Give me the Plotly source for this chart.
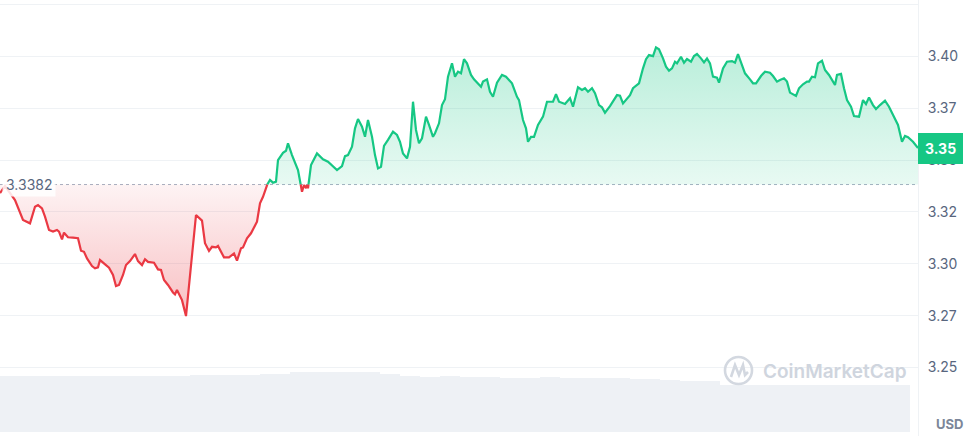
import plotly.graph_objects as go

# ---- data ----
times = [
    0, 5, 15, 23, 30, 35, 38, 42, 45, 49, 53,
    57, 59, 62, 64, 68, 73, 78, 81, 84, 87,
    92, 95, 98, 100, 105, 109, 113, 116, 119, 123,
    126, 130, 135, 138, 142, 145, 148, 154, 158, 161,
    164, 168, 173, 175, 177, 182, 186, 196, 202, 205,
    209, 212, 216, 218, 224, 229, 234, 237, 241, 243,
    247, 251, 257, 260, 263, 267, 270, 273, 276, 278,
    283, 286, 288, 292, 297, 298, 302, 304, 306, 307,
    308, 311, 317, 323, 328, 337, 342, 345, 348, 352,
    355, 358, 362, 365, 368, 372, 375, 378, 381, 384,
    388, 393, 397, 400, 403, 407, 410, 413, 416, 419,
    422, 426, 429, 433, 435, 439, 442, 445, 448, 452,
    455, 458, 461, 464, 467, 471, 474, 478, 481, 483,
    487, 490, 493, 497, 502, 506, 512, 517, 519, 523,
    526, 528, 531, 534, 538, 543, 547, 553, 556, 559,
    565, 570, 573, 578, 582, 585, 588, 592, 595, 599,
    602, 605, 610, 617, 620, 623, 627, 630, 633, 639,
    643, 646, 649, 653, 656, 659, 663, 666, 669, 672,
    675, 677, 681, 684, 687, 691, 694, 697, 701, 704,
    707, 710, 713, 717, 719, 723, 727, 732, 735, 738,
    742, 745, 750, 753, 756, 761, 765, 770, 773, 777,
    780, 784, 787, 790, 796, 799, 803, 807, 809, 812,
    815, 818, 822, 825, 829, 835, 837, 841, 844, 847,
    851, 854, 859, 863, 866, 869, 873, 876, 880, 885,
    889, 893, 896, 898, 902, 905, 908, 913, 918,
]
prices = [
    3.3341, 3.3375, 3.3307, 3.3211, 3.3195, 3.3275, 3.3283, 3.3267, 3.3227, 3.3163, 3.3155,
    3.3163, 3.3155, 3.3118, 3.3150, 3.3128, 3.3126, 3.3123, 3.3063, 3.3058, 3.3026,
    3.2989, 3.2978, 3.2983, 3.3018, 3.2999, 3.2981, 3.2946, 3.2893, 3.2898, 3.2946,
    3.2994, 3.3013, 3.3047, 3.3013, 3.2994, 3.3022, 3.3009, 3.3005, 3.2973, 3.2970,
    3.2922, 3.2898, 3.2862, 3.2853, 3.2874, 3.2825, 3.2748, 3.3235, 3.3208, 3.3099,
    3.3062, 3.3082, 3.3079, 3.3086, 3.3031, 3.3031, 3.3050, 3.3015, 3.3075, 3.3079,
    3.3123, 3.3147, 3.3203, 3.3291, 3.3323, 3.3380, 3.3404, 3.3391, 3.3396, 3.3500,
    3.3535, 3.3545, 3.3581, 3.3524, 3.3468, 3.3452, 3.3347, 3.3380, 3.3364, 3.3380,
    3.3364, 3.3476, 3.3532, 3.3504, 3.3492, 3.3452, 3.3471, 3.3519, 3.3524, 3.3564,
    3.3653, 3.3698, 3.3661, 3.3612, 3.3693, 3.3612, 3.3524, 3.3460, 3.3468, 3.3568,
    3.3597, 3.3637, 3.3621, 3.3588, 3.3532, 3.3508, 3.3564, 3.3781, 3.3645, 3.3581,
    3.3605, 3.3709, 3.3669, 3.3612, 3.3629, 3.3677, 3.3765, 3.3793, 3.3902, 3.3966,
    3.3902, 3.3926, 3.3918, 3.3986, 3.3966, 3.3910, 3.3889, 3.3870, 3.3853, 3.3878,
    3.3889, 3.3829, 3.3805, 3.3873, 3.3910, 3.3902, 3.3870, 3.3805, 3.3789, 3.3693,
    3.3653, 3.3588, 3.3612, 3.3612, 3.3669, 3.3709, 3.3781, 3.3781, 3.3818, 3.3781,
    3.3770, 3.3798, 3.3757, 3.3851, 3.3838, 3.3846, 3.3829, 3.3846, 3.3822, 3.3765,
    3.3754, 3.3728, 3.3760, 3.3813, 3.3810, 3.3773, 3.3798, 3.3813, 3.3846, 3.3870,
    3.3942, 3.3986, 3.4006, 3.4001, 3.4043, 3.4034, 3.3990, 3.3950, 3.3931, 3.3942,
    3.3974, 3.3966, 3.3998, 3.3969, 3.3987, 3.3974, 3.4001, 3.4011, 3.3990, 3.3971,
    3.3990, 3.3966, 3.3902, 3.3897, 3.3873, 3.3942, 3.3974, 3.3977, 3.3969, 3.4011,
    3.3958, 3.3918, 3.3889, 3.3870, 3.3870, 3.3905, 3.3926, 3.3921, 3.3905, 3.3878,
    3.3886, 3.3894, 3.3878, 3.3825, 3.3809, 3.3846, 3.3865, 3.3878, 3.3878, 3.3902,
    3.3899, 3.3966, 3.3979, 3.3934, 3.3910, 3.3862, 3.3910, 3.3915, 3.3846, 3.3789,
    3.3757, 3.3712, 3.3709, 3.3789, 3.3770, 3.3802, 3.3765, 3.3746, 3.3765, 3.3786,
    3.3757, 3.3717, 3.3685, 3.3669, 3.3588, 3.3616, 3.3610, 3.3588, 3.3558,
]
assert len(times) == len(prices)

open_price = 3.3382
open_label = "3.3382"
last_label = "3.35"

volumes = [
    5.60, 5.60, 5.60, 5.60, 5.60, 5.60, 5.60, 5.60, 5.60, 5.60,
    5.60, 5.60, 5.60, 5.60, 5.60, 5.60, 5.60, 5.60, 5.60, 5.73,
    5.73, 5.73, 5.73, 5.73, 5.73, 5.73, 5.83, 5.83, 5.83, 6.00,
    6.00, 6.00, 6.00, 6.00, 6.00, 6.00, 6.00, 6.00, 5.83, 5.83,
    5.60, 5.60, 5.50, 5.50, 5.60, 5.60, 5.50, 5.50, 5.50, 5.50,
    5.40, 5.40, 5.40, 5.40, 5.50, 5.50, 5.40, 5.40, 5.40, 5.40,
    5.40, 5.40, 5.40, 5.33, 5.33, 5.33, 5.23, 5.23, 5.07, 5.07,
    5.07, 5.07, 4.73, 4.73, 4.73, 4.73, 4.73, 4.73, 4.73, 4.73,
    4.73, 4.73, 4.73, 4.73, 4.73, 4.73, 4.73, 4.73, 4.73, 4.73,
    4.73,
]
volume_times = [5 + 10 * i for i in range(len(volumes))]

tick_vals = [3.25, 3.275, 3.30, 3.325, 3.35, 3.375, 3.40, 3.425]
tick_text = ["3.25", "3.27", "3.30", "3.32", "3.35", "3.37", "3.40", ""]

GREEN = "#16c784"
RED = "#ea3943"
LABEL = "#58667e"
GRID = "#eff2f5"

# ---- split the series at the open-price crossings ----
xs, ys = [times[0]], [prices[0]]
for i in range(1, len(times)):
    a, b = prices[i - 1], prices[i]
    if (a - open_price) * (b - open_price) < 0:
        t = times[i - 1] + (open_price - a) / (b - a) * (times[i] - times[i - 1])
        xs.append(t)
        ys.append(open_price)
    xs.append(times[i])
    ys.append(prices[i])

up_line = [y if y >= open_price else None for y in ys]
dn_line = [y if y <= open_price else None for y in ys]
n = len(xs)
poly_x = xs + xs[::-1]
up_poly = [max(y, open_price) for y in ys] + [open_price] * n
dn_poly = [min(y, open_price) for y in ys] + [open_price] * n

fig = go.Figure()

# volume bars
fig.add_trace(go.Bar(
    x=volume_times, y=volumes, width=9.2, yaxis="y2",
    marker=dict(color="#eef1f5", line=dict(width=0)),
    hoverinfo="skip", showlegend=False,
))

fig.add_trace(go.Scatter(
    x=poly_x, y=up_poly, mode="lines", line=dict(width=0), fill="toself",
    fillgradient=dict(type="vertical", start=open_price, stop=max(prices),
                      colorscale=[[0, "rgba(22,199,132,0.10)"], [1, "rgba(22,199,132,0.30)"]]),
    hoverinfo="skip", showlegend=False,
))
fig.add_trace(go.Scatter(
    x=poly_x, y=dn_poly, mode="lines", line=dict(width=0), fill="toself",
    fillgradient=dict(type="vertical", start=min(prices), stop=open_price,
                      colorscale=[[0, "rgba(234,57,67,0.32)"], [1, "rgba(234,57,67,0.06)"]]),
    hoverinfo="skip", showlegend=False,
))
fig.add_trace(go.Scatter(
    x=xs, y=up_line, mode="lines", line=dict(color=GREEN, width=2.2),
    connectgaps=False, hoverinfo="skip", showlegend=False,
))
fig.add_trace(go.Scatter(
    x=xs, y=dn_line, mode="lines", line=dict(color=RED, width=2.2),
    connectgaps=False, hoverinfo="skip", showlegend=False,
))

# dotted open-price line
fig.add_shape(type="line", xref="paper", yref="y", x0=0, x1=1,
              y0=open_price, y1=open_price,
              line=dict(color="#a7b1c2", width=1, dash="dot"), layer="below")

W_PLOT = 918.0
H_PLOT = 436.0

def px(x):
    return x / W_PLOT

def py(y):
    return 1 - y / H_PLOT

# watermark logo
fig.add_shape(type="circle", xref="paper", yref="paper",
              x0=px(725), x1=px(752), y0=py(384), y1=py(357),
              line=dict(color="#d3d8e0", width=2.6), layer="above")
fig.add_shape(type="path", xref="paper", yref="paper",
              path=(f"M {px(731)},{py(377)} L {px(735)},{py(365)} L {px(739)},{py(375)} "
                    f"L {px(743)},{py(365)} L {px(745)},{py(375)} L {px(748)},{py(372)}"),
              line=dict(color="#d3d8e0", width=2.6), layer="above")

fig.add_annotation(xref="paper", yref="paper", x=px(761), y=py(371),
                   xanchor="left", yanchor="middle", showarrow=False,
                   text="CoinMarketCap",
                   font=dict(family="Inter", size=19, color="#cfd5de", weight=600))

# open price label
fig.add_annotation(xref="paper", yref="y", x=px(2), y=open_price,
                   xanchor="left", yanchor="middle", showarrow=False,
                   text=open_label, bgcolor="rgba(255,255,255,0.85)", borderpad=3,
                   font=dict(family="Inter", size=14, color=LABEL))

# last price badge
fig.add_annotation(xref="paper", yref="y", x=1, y=prices[-1],
                   xanchor="left", yanchor="middle", showarrow=False,
                   text=f"<b>{last_label}</b>", bgcolor=GREEN, bordercolor=GREEN,
                   borderpad=6, font=dict(family="Inter", size=14, color="white"))

# currency label
fig.add_annotation(xref="paper", yref="paper", x=px(949), y=py(424),
                   xanchor="center", yanchor="middle", showarrow=False,
                   text="<b>USD</b>",
                   font=dict(family="Inter", size=13, color="#7c8699"))

y_top = 3.40 + 56.3 / 2075
y_bot = 3.40 - (H_PLOT - 56.3) / 2075

fig.update_layout(
    width=971, height=436,
    margin=dict(l=0, r=53, t=0, b=0, autoexpand=False),
    paper_bgcolor="white", plot_bgcolor="white",
    showlegend=False, hovermode=False, bargap=0,
    xaxis=dict(range=[0, W_PLOT], visible=True, showgrid=False, zeroline=False,
               showticklabels=False, ticks="", showline=False, fixedrange=True,
               automargin=False),
    yaxis=dict(range=[y_bot, y_top], side="right", tickvals=tick_vals, ticktext=tick_text,
               showgrid=True, gridcolor=GRID, gridwidth=1, zeroline=False,
               showline=True, linecolor=GRID, linewidth=1, mirror=False,
               ticks="", ticklabelstandoff=6, automargin=False,
               tickfont=dict(family="Inter", size=14, color=LABEL), fixedrange=True),
    yaxis2=dict(range=[-0.4, 43.2], overlaying="y", visible=False, fixedrange=True),
)

fig.write_html(
    "out.html",
    config={"displayModeBar": False, "staticPlot": True},
    post_script="document.body.style.margin='0';document.body.style.overflow='hidden';",
)
